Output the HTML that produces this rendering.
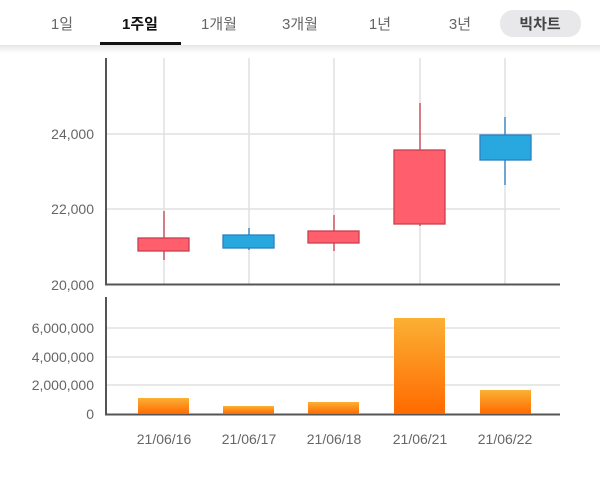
<!DOCTYPE html>
<html><head><meta charset="utf-8"><style>
html,body{margin:0;padding:0;background:#fff;width:600px;height:479px;overflow:hidden}
svg{display:block}
text{font-family:"Liberation Sans","Noto Sans CJK KR",sans-serif}
</style></head><body>
<svg width="600" height="479" xmlns="http://www.w3.org/2000/svg">
<defs>
<linearGradient id="sh" x1="0" y1="0" x2="0" y2="1"><stop offset="0" stop-color="#e6e6e6"/><stop offset="1" stop-color="#fff"/></linearGradient>
<linearGradient id="vg" x1="0" y1="0" x2="0" y2="1"><stop offset="0" stop-color="#fbb034"/><stop offset="1" stop-color="#ff6a00"/></linearGradient>
</defs>
<rect x="0" y="45" width="600" height="8" fill="url(#sh)"/>
<g font-size="15" fill="#666" text-anchor="middle">
<text x="62" y="29">1일</text>
<text x="140" y="29" font-weight="bold" fill="#111">1주일</text>
<text x="219" y="29">1개월</text>
<text x="300" y="29">3개월</text>
<text x="380" y="29">1년</text>
<text x="460" y="29">3년</text>
</g>
<rect x="100" y="42" width="81" height="3" fill="#111"/>
<rect x="500" y="10" width="81" height="27" rx="13" fill="#e8e8ea"/>
<text x="540" y="29" font-size="15" font-weight="bold" fill="#444" text-anchor="middle">빅차트</text>
<g stroke="#e0e0e0" stroke-width="1.5">
<line x1="164" y1="58" x2="164" y2="284"/><line x1="249" y1="58" x2="249" y2="284"/><line x1="334" y1="58" x2="334" y2="284"/><line x1="420" y1="58" x2="420" y2="284"/><line x1="505" y1="58" x2="505" y2="284"/>
<line x1="106" y1="134" x2="560" y2="134"/><line x1="106" y1="209" x2="560" y2="209"/>
<line x1="106" y1="328" x2="560" y2="328"/><line x1="106" y1="357" x2="560" y2="357"/><line x1="106" y1="385" x2="560" y2="385"/>
</g>
<g stroke="#555" stroke-width="2">
<line x1="106" y1="58" x2="106" y2="285"/><line x1="105" y1="284.5" x2="560" y2="284.5"/>
<line x1="106" y1="297" x2="106" y2="415"/><line x1="105" y1="414.5" x2="560" y2="414.5"/>
</g>
<g font-size="14" fill="#666" text-anchor="end">
<text x="94" y="139">24,000</text><text x="94" y="214">22,000</text><text x="94" y="290">20,000</text>
<text x="94" y="333">6,000,000</text><text x="94" y="362">4,000,000</text><text x="94" y="390">2,000,000</text><text x="94" y="419">0</text>
</g>
<g stroke="#c94050" stroke-width="1.3">
<line x1="164" y1="211" x2="164" y2="260"/><rect x="138" y="238" width="51" height="13" fill="#ff5f6d"/>
<line x1="334" y1="215" x2="334" y2="251"/><rect x="308" y="231" width="51" height="12" fill="#ff5f6d"/>
<line x1="420" y1="103" x2="420" y2="226"/><rect x="394" y="150" width="51" height="74" fill="#ff5f6d"/>
</g>
<g stroke="#2a7fc0" stroke-width="1.3">
<line x1="249" y1="228" x2="249" y2="250"/><rect x="223" y="235" width="51" height="13" fill="#29a8e0"/>
<line x1="505" y1="117" x2="505" y2="185"/><rect x="480" y="135" width="51" height="25" fill="#29a8e0"/>
</g>
<g fill="url(#vg)">
<rect x="138" y="398" width="51" height="16"/>
<rect x="223" y="406" width="51" height="8"/>
<rect x="308" y="402" width="51" height="12"/>
<rect x="394" y="318" width="51" height="96"/>
<rect x="480" y="390" width="51" height="24"/>
</g>
<g font-size="14" fill="#666" text-anchor="middle">
<text x="164" y="444">21/06/16</text><text x="249" y="444">21/06/17</text><text x="334" y="444">21/06/18</text><text x="420" y="444">21/06/21</text><text x="505" y="444">21/06/22</text>
</g>
</svg>
</body></html>
